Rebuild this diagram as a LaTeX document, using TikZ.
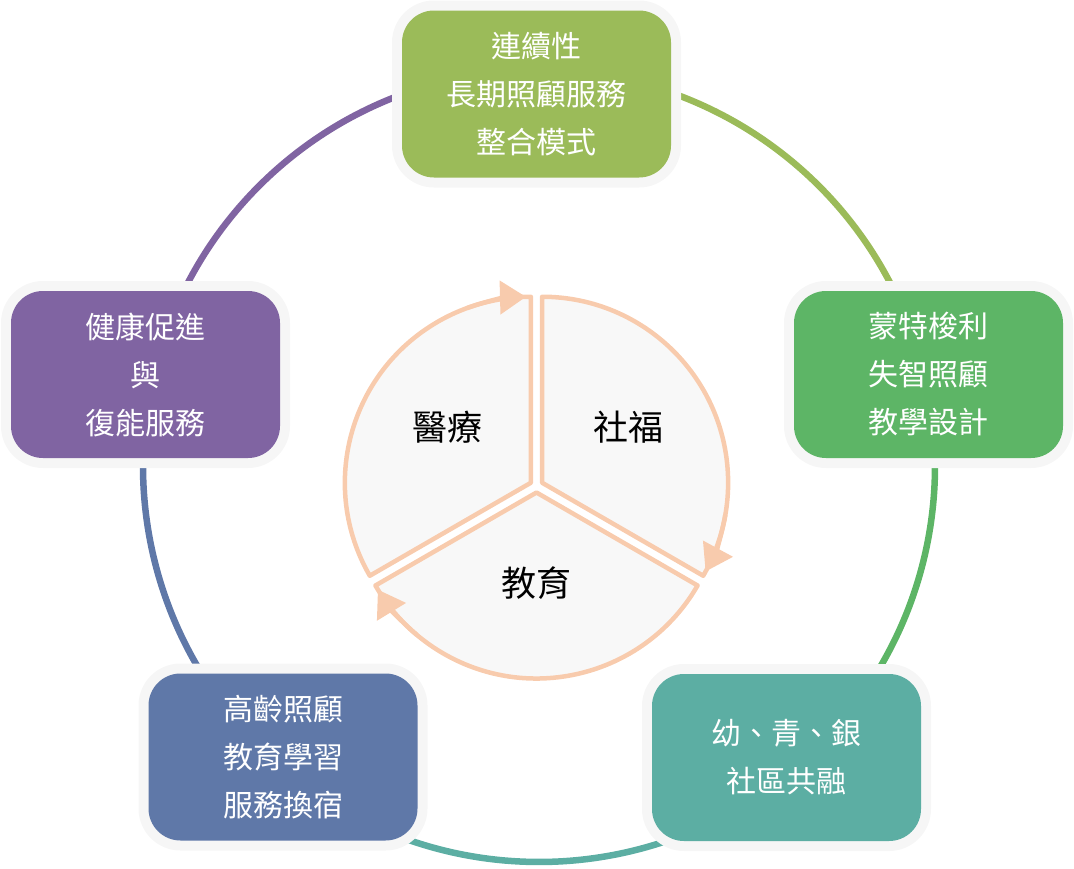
\documentclass[tikz,border=0pt]{standalone}
\usepackage{fontspec}
\newfontfamily\cjk{Noto Sans CJK TC}
\usetikzlibrary{arrows.meta,calc}
\definecolor{ringlime}{HTML}{9BBB59}
\definecolor{ringgreen}{HTML}{5DB566}
\definecolor{ringteal}{HTML}{5CAEA3}
\definecolor{ringblue}{HTML}{5F78A8}
\definecolor{ringpurple}{HTML}{8064A2}
\definecolor{halo}{HTML}{F6F6F6}
\definecolor{peach}{HTML}{F8CBAD}
\definecolor{sectorfill}{HTML}{F8F8F8}

\begin{document}
\begin{tikzpicture}[x=1pt,y=-1pt,
	cbox/.style={rounded corners=32pt,minimum width=269pt,minimum height=167pt,inner sep=0pt,
		align=center,text=white,font=\cjk\fontsize{30}{48}\selectfont,
		preaction={draw=halo,line width=20pt}},
	ring/.style={line width=6.5pt},
	sector/.style={draw=peach,fill=sectorfill,line width=4.5pt,line join=round},
	turn/.style={draw=peach,line width=4.5pt,-{Triangle[width=33pt,length=26pt]}},
	sectortext/.style={font=\cjk\fontsize{35}{40}\selectfont}]
	\useasboundingbox (0,0) rectangle (1074,868);
	\coordinate (ringO) at (539,466);
	\coordinate (core) at (536.5,486);
	% outer ring
	\foreach \a/\b/\c in {-166.9/-90/ringpurple,-90/-13.2/ringlime,-13.2/49.7/ringgreen,49.7/131.4/ringteal,131.4/193.1/ringblue}
	\draw[ring,\c] (ringO) ++(\a:396) arc[start angle=\a,end angle=\b,radius=396];
	% boxes
	\node[cbox,fill=ringlime] (lianxu) at (536.5,94) {連續性\\長期照顧服務\\整合模式};
	\node[cbox,fill=ringgreen] (mengte) at (928.5,374.5) {蒙特梭利\\失智照顧\\教學設計};
	\node[cbox,fill=ringteal] (gongrong) at (786.5,757.5) {幼、青、銀\\社區共融};
	\node[cbox,fill=ringblue] (gaoling) at (283,757) {高齡照顧\\教育學習\\服務換宿};
	\node[cbox,fill=ringpurple] (jiankang) at (145.5,374.5) {健康促進\\與\\復能服務};
	% inner cycle
	\foreach \s/\m/\e in {150/210/270,270/330/390,30/90/150}{
		\coordinate (c) at ($(core)+(\m:6.5)$);
		\draw[sector] (c) -- ++(\s:186) arc[start angle=\s,end angle=\e,radius=186] -- cycle;
		\draw[turn] (c) ++(\e-20:186) arc[start angle=\e-20,end angle=\e-1.5,radius=186];
	}
	\node[sectortext] (yiliao) at (447,427) {醫療};
	\node[sectortext] (shefu) at (628,427) {社福};
	\node[sectortext] (jiaoyu) at (536,583) {教育};
\end{tikzpicture}
\end{document}
